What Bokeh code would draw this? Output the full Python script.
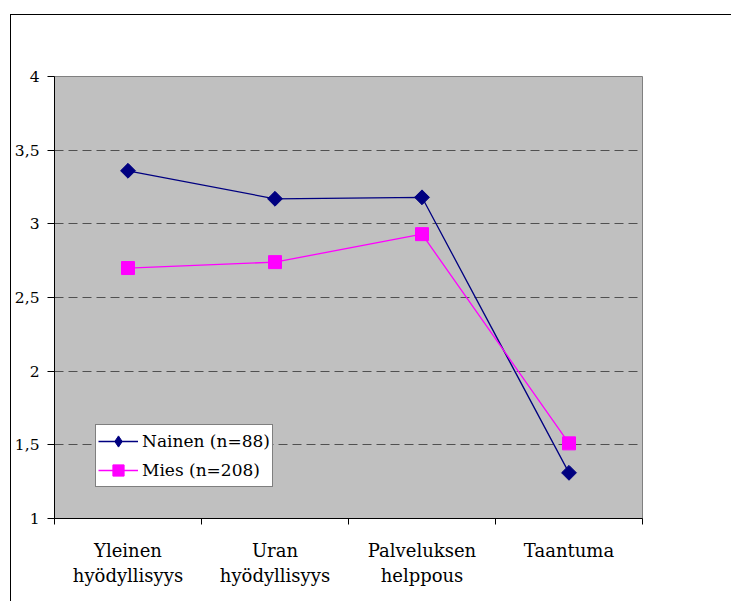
from bokeh.plotting import figure
from bokeh.models import FixedTicker, Range1d, Legend, LegendItem
from bokeh.embed import file_html
from bokeh.resources import INLINE

categories = ["Yleinen\nhyödyllisyys", "Uran\nhyödyllisyys", "Palveluksen\nhelppous", "Taantuma"]
nainen = [3.36, 3.17, 3.18, 1.31]
mies = [2.70, 2.74, 2.93, 1.51]
y_ticks = [1, 1.5, 2, 2.5, 3, 3.5, 4]
y_tick_labels = ["1", "1,5", "2", "2,5", "3", "3,5", "4"]
grid_ticks = [1.5, 2, 2.5, 3, 3.5]
series_names = ["Nainen (n=88)", "Mies (n=208)"]

FONT = "DejaVu Serif"
NAVY = "#000080"
MAGENTA = "#FF00FF"

x = [i + 0.5 for i in range(len(categories))]
boundaries = list(range(len(categories) + 1))

p = figure(frame_width=588, frame_height=442,
           x_range=Range1d(0, len(categories)), y_range=Range1d(1, 4),
           output_backend="svg", toolbar_location=None,
           min_border_left=41, min_border_top=61, min_border_right=89, min_border_bottom=83,
           background_fill_color="#C0C0C0", border_fill_color="white",
           outline_line_color="#808080", outline_line_width=1,
           margin=(14, 0, 0, 10),
           styles={"border-left": "1px solid black", "border-top": "1px solid black"})

# x axis
p.xaxis.ticker = FixedTicker(ticks=x, minor_ticks=boundaries)
p.xaxis.major_label_overrides = {xi: c for xi, c in zip(x, categories)}
p.xaxis.major_tick_out = 0
p.xaxis.major_tick_in = 0
p.xaxis.minor_tick_out = 6
p.xaxis.minor_tick_in = 0
p.xaxis.minor_tick_line_color = "black"
p.xaxis.axis_line_color = "black"
p.xaxis.major_label_text_font = FONT
p.xaxis.major_label_text_font_size = "18px"
p.xaxis.major_label_text_color = "black"
p.xaxis.major_label_standoff = 15
p.xgrid.visible = False

# y axis
p.yaxis.ticker = FixedTicker(ticks=y_ticks)
p.yaxis.major_label_overrides = {t: l for t, l in zip(y_ticks, y_tick_labels)}
p.yaxis.major_tick_out = 7
p.yaxis.major_tick_in = 0
p.yaxis.major_tick_line_color = "black"
p.yaxis.axis_line_color = "black"
p.yaxis.major_label_text_font = FONT
p.yaxis.major_label_text_font_size = "15.5px"
p.yaxis.major_label_text_color = "black"
p.yaxis.major_label_standoff = 8
p.ygrid.ticker = FixedTicker(ticks=grid_ticks)
p.ygrid.grid_line_color = "#505050"
p.ygrid.grid_line_dash = "9 5"
p.ygrid.grid_line_width = 1

l1 = p.line(x, nainen, line_color=NAVY, line_width=1.3)
# diamond used for the legend key (hidden beneath the rotated squares in the plot)
d1 = p.scatter(x, nainen, marker="diamond", size=8, fill_color=NAVY, line_color=NAVY)
s1 = p.scatter(x, nainen, marker="square", size=10.5, angle=0.785398,
               fill_color=NAVY, line_color=NAVY)
l2 = p.line(x, mies, line_color=MAGENTA, line_width=1.3)
s2 = p.scatter(x, mies, marker="square", size=13, fill_color=MAGENTA, line_color=MAGENTA)

legend = Legend(items=[LegendItem(label=series_names[0], renderers=[l1, d1]),
                       LegendItem(label=series_names[1], renderers=[l2, s2])],
                location=(41, 31),
                border_line_color="black", border_line_width=1,
                background_fill_color="white", background_fill_alpha=1,
                label_text_font=FONT, label_text_font_size="17px",
                label_text_color="black",
                glyph_width=40, glyph_height=28, label_height=20,
                label_standoff=4, padding=2, spacing=1, margin=0)
p.add_layout(legend)

open("out.html", "w").write(file_html(p, INLINE))
